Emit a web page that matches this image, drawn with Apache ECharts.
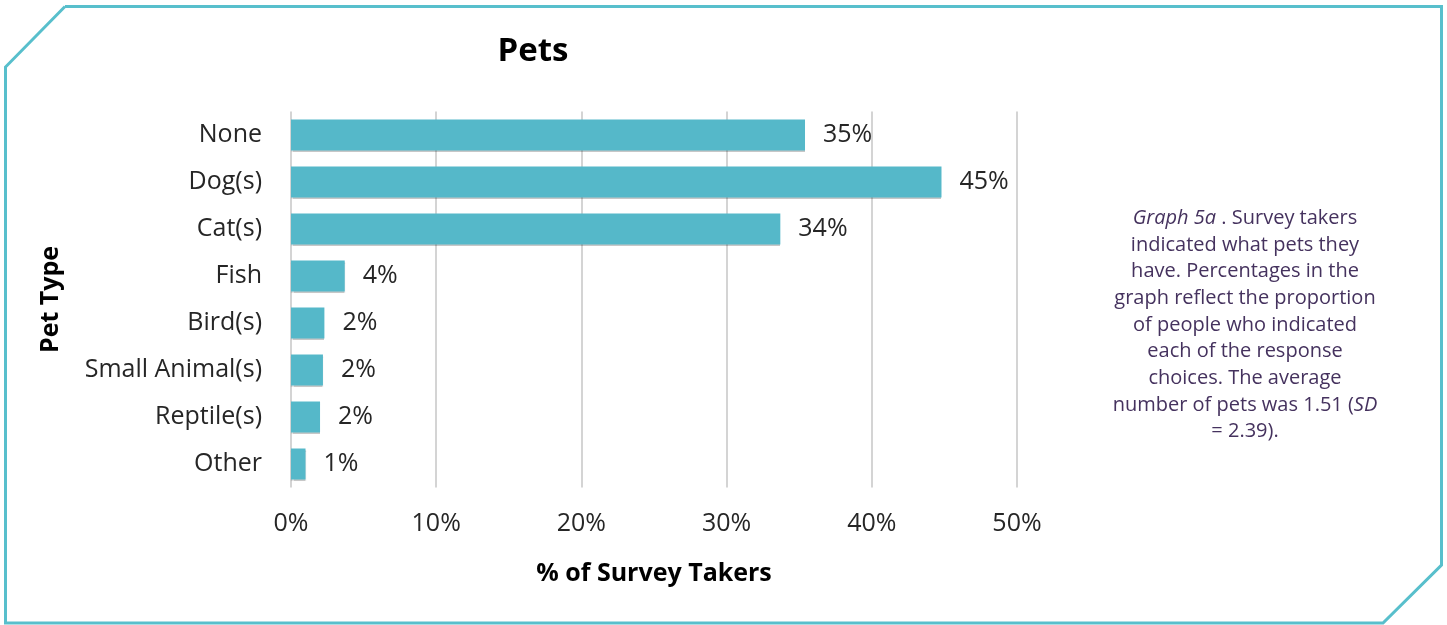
<!DOCTYPE html>
<html>
<head>
<meta charset="utf-8">
<script src="https://cdn.jsdelivr.net/npm/echarts@6/dist/echarts.min.js"></script>
<style>
  html, body { margin: 0; padding: 0; background: #ffffff; }
  #chart { width: 1447px; height: 625px; }
</style>
</head>
<body>
<div id="chart"></div>
<script>
// Pet ownership among survey takers (% of respondents)
const categories = ['None', 'Dog(s)', 'Cat(s)', 'Fish', 'Bird(s)', 'Small Animal(s)', 'Reptile(s)', 'Other'];
const percentValues = [35.4, 44.8, 33.7, 3.7, 2.3, 2.2, 2.0, 1.0];
const xTicks = [0, 10, 20, 30, 40, 50];

const captionLines = [
  '{i|Graph 5a} . Survey takers',
  'indicated what pets they',
  'have. Percentages in the',
  'graph reflect the proportion',
  'of people who indicated',
  'each of the response',
  'choices. The average',
  'number of pets was 1.51 ({i|SD}',
  '= 2.39).'
];

const chartFont = '"Open Sans", Lato, sans-serif';
const teal = '#58bfcc';
const captionColor = '#45325e';

const chart = echarts.init(document.getElementById('chart'), null, { renderer: 'canvas' });

chart.setOption({
  backgroundColor: '#ffffff',
  animation: false,
  title: {
    text: 'Pets',
    left: 528,
    top: 30,
    textAlign: 'center',
    textStyle: { fontFamily: chartFont, fontSize: 33, fontWeight: 'bold', color: '#000000' }
  },
  grid: {
    left: 291,
    right: 1447 - 1017,
    top: 111.5,
    bottom: 625 - 487.5,
    containLabel: false
  },
  xAxis: {
    type: 'value',
    min: xTicks[0],
    max: xTicks[xTicks.length - 1],
    interval: xTicks[1] - xTicks[0],
    name: '% of Survey Takers',
    nameLocation: 'middle',
    nameGap: 74,
    nameTextStyle: { fontFamily: chartFont, fontSize: 25, fontWeight: 'bold', color: '#000000' },
    axisLine: { show: false },
    axisTick: { show: false },
    axisLabel: {
      margin: 24,
      fontFamily: chartFont,
      fontSize: 25,
      color: '#262626',
      formatter: v => v + '%'
    },
    splitLine: { show: true, lineStyle: { color: '#d4d4d4', width: 2 } }
  },
  yAxis: {
    type: 'category',
    inverse: true,
    data: categories,
    name: 'Pet Type',
    nameLocation: 'middle',
    nameRotate: 90,
    nameGap: 228,
    nameTextStyle: { fontFamily: chartFont, fontSize: 25, fontWeight: 'bold', color: '#000000' },
    axisLine: { show: false },
    axisTick: { show: false },
    axisLabel: {
      margin: 29,
      padding: [4, 0, 0, 0],
      fontFamily: chartFont,
      fontSize: 25,
      color: '#262626'
    }
  },
  series: [{
    type: 'bar',
    data: percentValues,
    barWidth: 31,
    itemStyle: {
      color: '#55b8c9',
      shadowColor: 'rgba(0,0,0,0.22)',
      shadowBlur: 1,
      shadowOffsetY: 1
    },
    label: {
      show: true,
      position: 'right',
      distance: 18,
      padding: [5, 0, 0, 0],
      fontFamily: chartFont,
      fontSize: 25,
      color: '#262626',
      formatter: p => Math.round(p.value) + '%'
    }
  }],
  graphic: [
    {
      type: 'polyline',
      shape: {
        points: [
          [65, 6.5], [1441.5, 6.5], [1441.5, 565], [1383, 623],
          [5.5, 623], [5.5, 67], [65, 6.5]
        ]
      },
      style: { stroke: teal, lineWidth: 3, fill: null, lineJoin: 'miter' },
      silent: true
    },
    {
      type: 'text',
      x: 1245,
      y: 205,
      style: {
        text: captionLines.join('\n'),
        align: 'center',
        verticalAlign: 'top',
        fontFamily: chartFont,
        fontSize: 20,
        lineHeight: 26.67,
        fill: captionColor,
        rich: {
          i: { fontStyle: 'italic', fontFamily: chartFont, fontSize: 20, lineHeight: 26.67, fill: captionColor }
        }
      },
      silent: true
    }
  ]
});
</script>
</body>
</html>
